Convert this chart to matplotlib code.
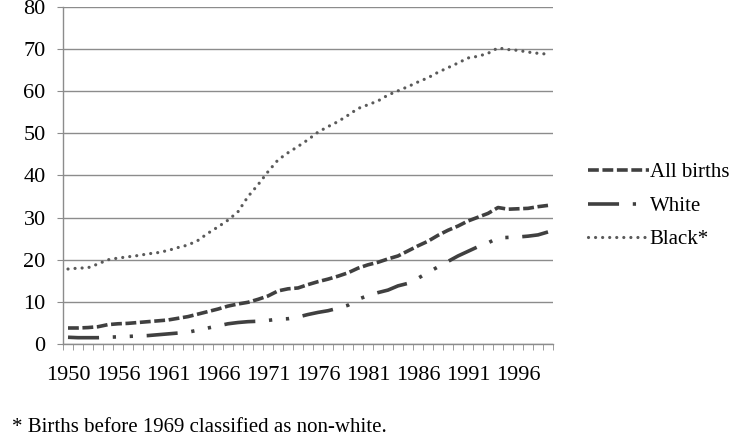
import numpy as np
import matplotlib
matplotlib.use("Agg")
import matplotlib.pyplot as plt

plt.rcParams['font.family'] = ['Liberation Serif', 'DejaVu Serif']

years = [1950, 1952, 1953, 1954, 1955, 1956, 1957, 1958, 1959, 1960,
         1961, 1962, 1963, 1964, 1965, 1966, 1967, 1968, 1969, 1970,
         1971, 1972, 1973, 1974, 1975, 1976, 1977, 1978, 1979, 1980,
         1981, 1982, 1983, 1984, 1985, 1986, 1987, 1988, 1989, 1990,
         1991, 1992, 1993, 1994, 1995, 1996, 1997, 1998, 1999]

all_births = [3.8, 3.8, 3.9, 4.1, 4.6, 4.8, 4.9, 5.1, 5.3, 5.5,
              5.7, 6.1, 6.5, 7.1, 7.7, 8.3, 9.0, 9.5, 9.9, 10.6,
              11.4, 12.6, 13.1, 13.3, 14.1, 14.8, 15.4, 16.1, 16.9, 18.0,
              18.8, 19.4, 20.2, 20.9, 22.1, 23.3, 24.4, 25.8, 27.0, 28.0,
              29.2, 30.1, 31.0, 32.4, 32.0, 32.1, 32.2, 32.6, 32.9]

white = [1.6, 1.5, 1.5, 1.5, 1.6, 1.7, 1.8, 1.9, 2.0, 2.2,
         2.4, 2.6, 2.8, 3.3, 3.8, 4.3, 4.8, 5.1, 5.3, 5.4,
         5.6, 5.9, 6.0, 6.4, 7.0, 7.5, 7.9, 8.5, 9.2, 10.6,
         11.5, 12.2, 12.8, 13.8, 14.4, 15.6, 17.0, 18.3, 19.6, 20.9,
         22.0, 23.1, 24.0, 25.2, 25.3, 25.4, 25.6, 25.9, 26.6]

black = [17.8, 18.0, 18.1, 19.0, 20.0, 20.4, 20.7, 21.0, 21.4, 21.7,
         22.2, 22.9, 23.5, 24.6, 26.3, 27.8, 29.4, 31.4, 35.0, 37.8,
         40.9, 43.7, 45.4, 46.9, 48.5, 50.3, 51.6, 52.8, 54.3, 55.9,
         56.8, 57.7, 59.1, 60.1, 61.1, 62.2, 63.2, 64.5, 65.6, 66.7,
         67.9, 68.3, 69.0, 70.3, 69.9, 69.7, 69.3, 69.0, 68.8]

labels = ["All births", "White", "Black*"]
footnote = "* Births before 1969 classified as non-white."

fig = plt.figure(figsize=(7.33, 4.38), dpi=100)
ax = fig.add_axes([63/733, 94/438, 490/733, 337/438])

x = np.arange(len(years))
ax.plot(x, all_births, color='#404040', lw=2.6, linestyle=(0, (3, 1)),
        label=labels[0])
ax.plot(x, white, color='#404040', lw=2.6,
        linestyle=(0, (8.6, 3.8, 0.9, 3.8, 0.9, 3.8)), label=labels[1])
ax.plot(x, black, color='#5a5a5a', lw=2.3, linestyle=(0, (0.01, 2.2)),
        dash_capstyle='round', label=labels[2])

ax.set_xlim(-0.5, len(years) - 0.5)
ax.set_ylim(0, 80)
ax.set_yticks(np.arange(0, 81, 10))
ax.yaxis.grid(True, color='#8c8c8c', lw=1)
ax.set_axisbelow(True)

ax.set_xticks(x[::5])
ax.set_xticklabels([str(y) for y in years[::5]])
ax.set_xticks(np.arange(-0.5, len(years), 1), minor=True)
ax.tick_params(axis='x', which='major', length=0, pad=16, labelsize=16)
ax.tick_params(axis='x', which='minor', length=4, color='#8c8c8c', direction='out')
ax.tick_params(axis='y', length=4.5, color='#8c8c8c', pad=8, labelsize=16)

for s in ['top', 'right']:
    ax.spines[s].set_visible(False)
for s in ['left', 'bottom']:
    ax.spines[s].set_color('#8c8c8c')
    ax.spines[s].set_linewidth(1)

fig.legend(loc='center left', bbox_to_anchor=(578/733, 1 - 206/438),
           frameon=False, fontsize=15, handlelength=2.9, handletextpad=0.05,
           labelspacing=0.67, borderpad=0)

fig.text(12/733, 1 - 427/438, footnote, fontsize=15, va='center', ha='left')

fig.savefig("out.png", dpi=100)
